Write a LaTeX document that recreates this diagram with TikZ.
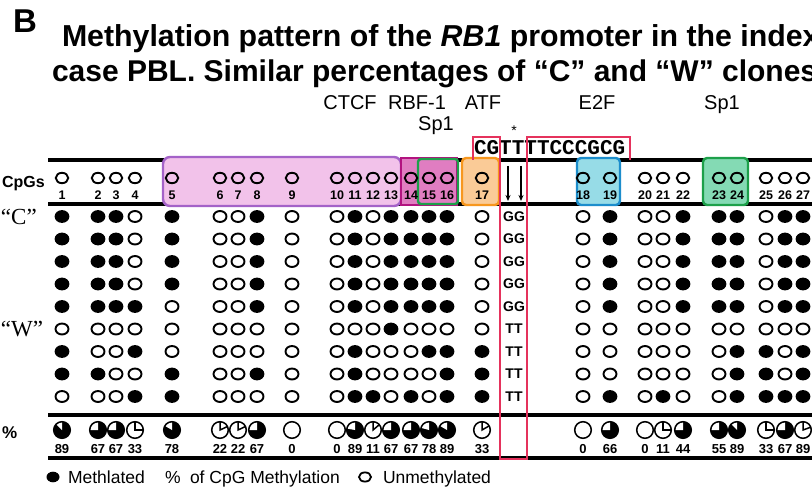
\documentclass[tikz,border=0pt]{standalone}
\usepackage{fontspec}
\setmainfont{Liberation Sans}
\newfontfamily\serifff{Liberation Serif}
\newfontfamily\monoff{Liberation Mono}
\usetikzlibrary{arrows.meta}
\definecolor{redbox}{HTML}{E5325C}
\definecolor{purpfill}{HTML}{F2C2EA}
\definecolor{purpline}{HTML}{A462C8}
\definecolor{magfill}{HTML}{E07DC1}
\definecolor{magline}{HTML}{B2137F}
\definecolor{grnline}{HTML}{1DA04A}
\definecolor{grnfill}{HTML}{84DAB4}
\definecolor{orgfill}{HTML}{FACB97}
\definecolor{orgline}{HTML}{F7971E}
\definecolor{blufill}{HTML}{97DCE7}
\definecolor{bluline}{HTML}{1C8DCC}
\newcommand\myfs[1]{\fontsize{#1}{#1}\selectfont}
\def\colx{{62,98,116,135,172,220,238,257,292,337,355,373,391,411,429,447,482,583,610,645,663,683,719,737,766,785,803}}
\newcommand\dotrow[2]{%
  \foreach \v [count=\c] in {#2} {%
    \pgfmathsetmacro\xx{\colx[\c-1]}%
    \ifnum\v=1
      \fill (\xx,#1) ellipse [x radius=7.4, y radius=6.4];
    \else
      \draw[line width=1.9] (\xx,#1) ellipse [x radius=6.5, y radius=5.5];
    \fi
  }}
\newcommand\pieB[2]{\begin{scope}[shift={(#1,430)},yscale=-1]
  \fill (0,0) circle (8.3);
  \fill[white] (0,0) -- (90:8.3) arc [start angle=90, end angle={90+#2}, radius=8.3] -- cycle;
  \draw[line width=1.5] (0,0) circle (8.3);
\end{scope}}
\newcommand\pieW[2]{\begin{scope}[shift={(#1,430)},yscale=-1]
  \fill[white] (0,0) circle (8.3);
  \draw[line width=1.5] (90:8.3) -- (0,0) -- ({90-#2}:8.3);
  \draw[line width=1.5] (0,0) circle (8.3);
\end{scope}}
\newcommand\pieO[1]{\begin{scope}[shift={(#1,430)}]
  \draw[line width=1.5] (0,0) circle (8.3);
\end{scope}}
\begin{document}
\begin{tikzpicture}[x=1pt,y=-1pt,
  txt/.style={inner sep=0pt, outer sep=0pt},
  rule/.style={line width=3.2pt},
  lab/.style={txt, anchor=base, font=\myfs{20}},
  cpgnum/.style={txt, anchor=base, font=\bfseries\myfs{12.5}},
  pctnum/.style={txt, anchor=base, font=\bfseries\myfs{13}},
  gtlab/.style={txt, font=\bfseries\myfs{14}},
  leg/.style={txt, anchor=base west, font=\myfs{17.5}}]
\clip (0,0) rectangle (812,492);
\fill[white] (0,0) rectangle (812,492);
% titles
\node[txt,anchor=base west,font=\bfseries\myfs{33}] (panel) at (13,33) {B};
\node[txt,anchor=base west,font=\bfseries\myfs{30.3}] (title1) at (62,47) {Methylation pattern of the \textit{RB1} promoter in the index};
\node[txt,anchor=base west,font=\bfseries\myfs{30}] (title2) at (52,82) {case PBL. Similar percentages of “C” and “W” clones};
% factor labels
\node[lab] (ctcf) at (350,110) {CTCF};
\node[lab] (rbf) at (417,110) {RBF-1};
\node[lab] (atf) at (483,110) {ATF};
\node[lab] (sp1a) at (436,131) {Sp1};
\node[lab] (e2f) at (597,110) {E2F};
\node[lab] (sp1b) at (722,110) {Sp1};
\node[txt,font=\myfs{14}] (star) at (514,131) {*};
\node[txt,anchor=base west,font=\monoff\bfseries\myfs{21}] (seq) at (474,155) {CGTTTTCCCGCG};
% rules
\draw[rule] (48,160) -- (812,160);
\draw[rule] (48,204) -- (812,204);
\draw[rule] (48,415) -- (812,415);
\draw[rule] (48,458) -- (812,458);
% coloured boxes
\draw[line width=2.4pt, draw=purpline, fill=purpfill, rounded corners=7pt] (163,157) rectangle (401,206);
\draw[line width=2.8pt, draw=magline, fill=magfill] (401,158) rectangle (457,205);
\draw[line width=2.4pt, draw=grnline, rounded corners=3pt] (418,159) rectangle (458,204);
\draw[line width=2.4pt, draw=orgline, fill=orgfill, rounded corners=4pt] (462,158) rectangle (499,205);
\draw[line width=2.4pt, draw=bluline, fill=blufill, rounded corners=4pt] (577,158) rectangle (620,205);
\draw[line width=2.4pt, draw=grnline, fill=grnfill, rounded corners=4pt] (703,158) rectangle (748,205);
% red boxes
\draw[line width=2.4pt, draw=redbox] (473,160) -- (473,137) -- (500,137) -- (500,459) -- (527,459) -- (527,137) -- (630,137) -- (630,160);
% arrows
\coordinate (a1s) at (508,166); \coordinate (a1e) at (508,201);
\coordinate (a2s) at (521,166); \coordinate (a2e) at (521,201);
\draw[line width=1.4pt, -{Stealth[length=6pt,width=5pt]}] (a1s) -- (a1e);
\draw[line width=1.4pt, -{Stealth[length=6pt,width=5pt]}] (a2s) -- (a2e);
% left labels
\node[txt,anchor=base west,font=\bfseries\myfs{16}] (cpgs) at (2,188) {CpGs};
\node[txt,anchor=base west,font=\serifff\myfs{23}] (cl) at (1,225) {“C”};
\node[txt,anchor=base west,font=\serifff\myfs{23}] (wl) at (1,336) {“W”};
\node[txt,anchor=base west,font=\bfseries\myfs{17}] (pc) at (2,438) {\%};
% header CpG circles and numbers
\foreach \c in {1,...,27} {
  \pgfmathsetmacro\xx{\colx[\c-1]}
  \draw[line width=1.9] (\xx,178) ellipse [x radius=6.2, y radius=5.2];
  \node[cpgnum] (n\c) at (\xx,200) {\c};
}
% data rows
\dotrow{216.5}{1,1,1,0,1,0,0,1,0,0,1,0,1,1,1,1,0,0,1,0,0,1,1,1,0,1,1}
\dotrow{239}{1,1,1,0,1,0,0,1,0,0,1,0,1,1,1,1,0,0,1,0,0,1,1,1,0,1,1}
\dotrow{261.5}{1,1,1,0,1,0,0,1,0,0,1,0,1,1,1,1,0,0,1,0,0,1,1,1,0,1,1}
\dotrow{284}{1,1,1,0,1,0,0,1,0,0,1,0,1,1,1,1,0,0,1,0,0,1,1,1,0,1,1}
\dotrow{306.5}{1,1,1,1,0,0,0,1,0,0,1,0,1,1,1,1,0,0,1,0,0,1,1,1,0,1,1}
\dotrow{329}{0,0,0,0,0,0,0,0,0,0,0,0,1,0,0,0,0,0,0,0,0,0,0,0,0,0,0}
\dotrow{351.5}{1,0,0,1,0,0,0,0,0,0,1,0,0,0,1,1,1,0,0,0,0,0,0,1,1,0,1}
\dotrow{374}{1,1,0,0,1,0,0,1,0,0,1,0,0,0,0,1,1,0,0,0,0,0,0,1,1,0,1}
\dotrow{396.5}{0,0,0,1,1,0,0,0,0,0,1,1,0,1,0,1,1,0,1,0,1,0,0,1,1,1,1}
% GG / TT
\foreach \yy/\s [count=\r] in {216.5/GG,239/GG,261.5/GG,284/GG,306.5/GG,329/TT,351.5/TT,374/TT,396.5/TT}
  \node[gtlab] (gt\r) at (514,\yy) {\s};
% pies
\foreach \t/\a/\p [count=\c] in {1/45/89,1/90/67,1/90/67,2/90/33,1/60/78,2/65/22,2/65/22,1/90/67,0/0/0,
   0/0/0,1/80/89,2/50/11,1/90/67,1/90/67,1/75/78,1/60/89,2/60/33,
   0/0/0,1/90/66,0/0/0,2/90/11,1/90/44,1/90/55,1/45/89,2/90/33,1/90/67,2/70/89} {
  \pgfmathsetmacro\xx{\colx[\c-1]}
  \ifnum\t=1 \pieB{\xx}{\a}\fi
  \ifnum\t=2 \pieW{\xx}{\a}\fi
  \ifnum\t=0 \pieO{\xx}\fi
  \node[pctnum] (p\c) at (\xx,453) {\p};
}
% legend
\fill (53,477) ellipse [x radius=6.5, y radius=5.3];
\node[leg] (lg1) at (68,483) {Methlated};
\node[leg] (lg2) at (165,483) {\%};
\node[leg] (lg3) at (190,483) {of CpG Methylation};
\draw[line width=1.8] (365,477) ellipse [x radius=6, y radius=4.6];
\node[leg] (lg4) at (383,483) {Unmethylated};
\end{tikzpicture}
\end{document}
